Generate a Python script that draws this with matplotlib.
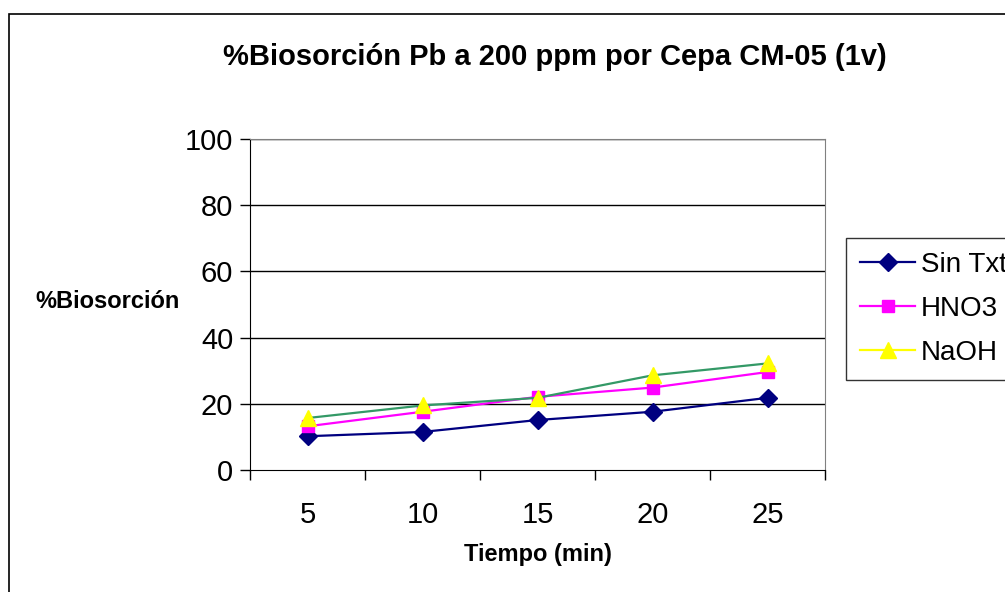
import matplotlib
matplotlib.use("Agg")
import matplotlib.pyplot as plt
from matplotlib.lines import Line2D
from matplotlib.patches import Rectangle

plt.rcParams['font.family'] = ['Liberation Sans', 'DejaVu Sans']

tiempo = [5, 10, 15, 20, 25]
sin_txt = [10.2, 11.5, 15.1, 17.6, 21.8]
hno3 = [13.2, 17.6, 22.1, 24.9, 29.6]
naoh = [15.7, 19.5, 21.8, 28.6, 32.2]
series_names = ['Sin Txt', 'HNO3', 'NaOH']
yticks = [0, 20, 40, 60, 80, 100]

fig = plt.figure(figsize=(10.05, 5.92), dpi=100)
ax = fig.add_axes([250 / 1005, 1 - 470 / 592, 575 / 1005, 331 / 592])

# gridlines
for v in yticks[1:]:
    ax.axhline(v, color='black', lw=1, zorder=1)

ax.plot(tiempo, sin_txt, color='#000080', lw=1.6, marker='D', ms=9,
        mfc='#000080', mec='#000080', zorder=3)
ax.plot(tiempo, hno3, color='#FF00FF', lw=1.6, marker='s', ms=8,
        mfc='#FF00FF', mec='#FF00FF', zorder=3)
ax.plot(tiempo, naoh, color='#339966', lw=1.6, zorder=4)
ax.plot(tiempo, naoh, ls='none', marker='^', ms=11,
        mfc='#FFFF00', mec='#FFFF00', zorder=5)

ax.set_xlim(2.5, 27.5)
ax.set_ylim(0, 100)
ax.set_yticks(yticks)
ax.set_xticks(tiempo)
ax.set_xticks([2.5, 7.5, 12.5, 17.5, 22.5, 27.5], minor=True)
ax.tick_params(axis='x', which='major', length=0, pad=22, labelsize=21)
ax.tick_params(axis='x', which='minor', length=7, width=1, direction='out')
ax.tick_params(axis='y', length=7, width=1, direction='out', pad=5, labelsize=21)

ax.spines['top'].set_color('#808080')
ax.spines['right'].set_color('#808080')
ax.spines['left'].set_color('black')
ax.spines['bottom'].set_color('black')

fig.text(555 / 1005, 1 - 57 / 592, '%Biosorción Pb a 200 ppm por Cepa CM-05 (1v)',
         ha='center', va='center', fontsize=21, fontweight='bold')
fig.text(108 / 1005, 1 - 302 / 592, '%Biosorción', ha='center', va='center',
         fontsize=17, fontweight='bold')
fig.text(538 / 1005, 1 - 554 / 592, 'Tiempo (min)', ha='center', va='center',
         fontsize=17, fontweight='bold')

handles = [
    Line2D([], [], color='#000080', lw=1.6, marker='D', ms=9),
    Line2D([], [], color='#FF00FF', lw=1.6, marker='s', ms=8),
    Line2D([], [], color='#FFFF00', lw=1.6, marker='^', ms=11),
]
leg = fig.legend(handles, series_names, loc='upper left',
                 bbox_to_anchor=(846 / 1005, 1 - 238 / 592), fontsize=20,
                 frameon=True, fancybox=False, edgecolor='black',
                 handlelength=2.0, handletextpad=0.2, labelspacing=0.65,
                 borderpad=0.5, borderaxespad=0)
leg.get_frame().set_linewidth(1)

# outer chart border
fig.patches.append(Rectangle((9 / 1005, -0.05), 1.2, 1 - 14 / 592 + 0.05,
                             transform=fig.transFigure, fill=False,
                             edgecolor='black', lw=1.2))

fig.savefig('out.png', dpi=100)
